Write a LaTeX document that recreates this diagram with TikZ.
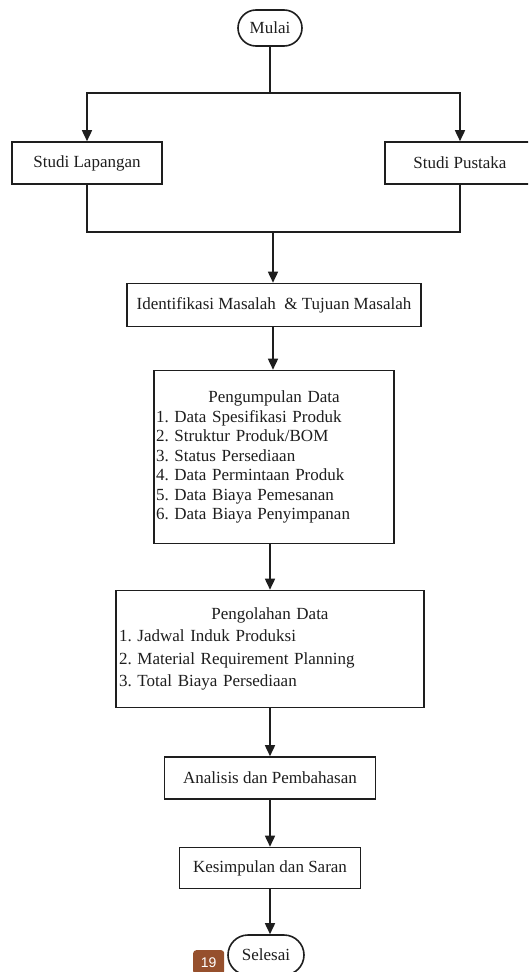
\documentclass[tikz,border=0pt]{standalone}
\usepackage{fontspec}
\setmainfont{Liberation Serif}
\newfontfamily\badgefont{Liberation Sans}
\usetikzlibrary{arrows.meta,shapes.misc}
\definecolor{badgebrown}{RGB}{150,80,45}
\definecolor{ink}{RGB}{30,30,30}
\tikzset{
  box/.style={draw=ink, line width=1.6pt, inner sep=0pt, font=\fontsize{17}{19.5}\selectfont, text=ink},
  term/.style={draw=ink, line width=1.6pt, rounded rectangle, inner sep=0pt, font=\fontsize{17}{19.5}\selectfont, text=ink},
  conn/.style={draw=ink, line width=1.6pt},
  arr/.style={conn, -{Triangle[width=10pt,length=11pt]}},
}
\frenchspacing
\begin{document}
\begin{tikzpicture}[x=1pt,y=-1pt]
\useasboundingbox (0,0) rectangle (528,972);
\clip (0,0) rectangle (528,972);
\fill[white] (0,0) rectangle (528,972);

\node[term, minimum width=64pt, minimum height=36pt] (mulai) at (270,28) {Mulai};
\node[box, minimum width=150pt, minimum height=42pt] (studiL) at (87,163) {Studi Lapangan};
\node[box, minimum width=150pt, minimum height=42pt] (studiP) at (460,163) {Studi Pustaka};
\node[box, minimum width=294pt, minimum height=43pt] (ident) at (274,305) {Identifikasi Masalah\ \ \& Tujuan Masalah};
\node[box, minimum width=240pt, minimum height=173pt, text width=236pt, inner xsep=2pt, align=left] (kumpul) at (274,457)
  {\makebox[\linewidth]{Pengumpulan Data}\\
   1. Data Spesifikasi Produk\\
   2. Struktur Produk/BOM\\
   3. Status Persediaan\\
   4. Data Permintaan Produk\\
   5. Data Biaya Pemesanan\\
   6. Data Biaya Penyimpanan};
\node[box, minimum width=308pt, minimum height=117pt, text width=302pt, inner xsep=3pt, align=left, font=\fontsize{17}{22.3}\selectfont] (olah) at (270,649)
  {\makebox[\linewidth]{Pengolahan Data}\\
   1. Jadwal Induk Produksi\\
   2. Material Requirement Planning\\
   3. Total Biaya Persediaan};
\node[box, minimum width=211pt, minimum height=42pt] (analisis) at (270,778) {Analisis dan Pembahasan};
\node[box, minimum width=181pt, minimum height=41pt] (simpul) at (270,868) {Kesimpulan dan Saran};
\node[term, minimum width=76pt, minimum height=40pt] (selesai) at (266,955) {Selesai};

\node[fill=badgebrown, rounded corners=3pt, minimum width=31pt, minimum height=24pt, inner sep=0pt, text=white, font=\badgefont\fontsize{14}{14}\selectfont, anchor=north west] (badge) at (193,950) {19};

\coordinate (split) at (270,93);
\coordinate (merge) at (273,232);

\draw[conn] (mulai.south) -- (split);
\draw[arr] (split) -| (studiL.north);
\draw[arr] (split) -| (studiP.north);
\draw[conn] (studiL.south) |- (merge);
\draw[conn] (studiP.south) |- (merge);
\draw[arr] (merge) -- (merge |- ident.north);
\draw[arr] (ident.south -| merge) -- (merge |- kumpul.north);
\draw[arr] (kumpul.south -| olah.north) -- (olah.north);
\draw[arr] (olah.south) -- (analisis.north -| olah.south);
\draw[arr] (analisis.south) -- (simpul.north);
\draw[arr] (simpul.south) -- (simpul.south |- selesai.north);
\end{tikzpicture}
\end{document}
